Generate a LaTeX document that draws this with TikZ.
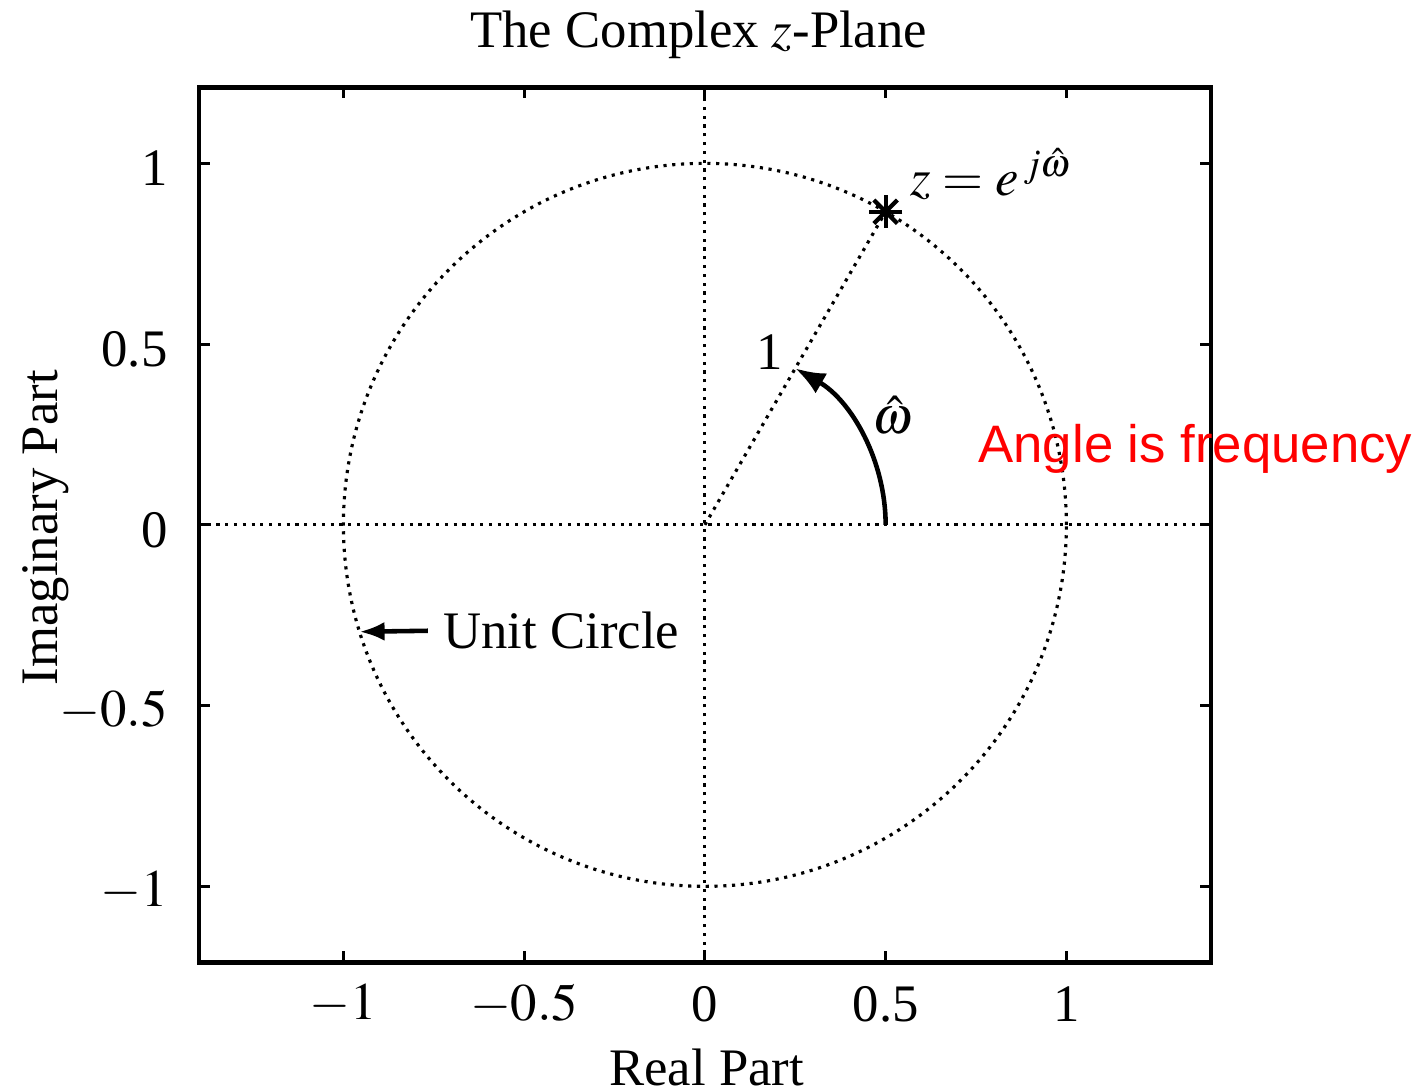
\documentclass[tikz,border=0pt]{standalone}
\usepackage{mathptmx}
\usepackage{fontspec}
\setmainfont{Liberation Serif}
\newfontfamily\notefont{Liberation Sans}
\usepackage{xcolor}
\usepackage{tikz}
\usetikzlibrary{calc,arrows.meta,positioning}
\definecolor{inkc}{HTML}{000000}
\definecolor{notec}{HTML}{FF0000}
\tikzset{
  frm/.style={line width=1.3pt,inkc},
  tck/.style={line width=0.9pt,inkc},
  dotl/.style={line width=0.9pt,dash pattern=on 0.9pt off 1.6pt,inkc},
  ar/.style={-{Latex[length=3mm,width=2.3mm]},line width=1.3pt,inkc},
  lbl/.style={font=\fontsize{15}{18}\selectfont,inner sep=0pt,inkc}
}
\begin{document}
\begin{tikzpicture}[x=3.615cm,y=3.615cm]
\useasboundingbox (-1.950,-1.563) rectangle (1.981,1.452);
\coordinate (org) at (0,0);
\coordinate (zpt) at (60:1);
\coordinate (a0) at (0.5,0);
\coordinate (ucp) at (197.2:1);
% dotted axes, circle and radius
\draw[dotl] (-1.4,0)--(1.4,0);
\draw[dotl] (0,-1.21)--(0,1.21);
\draw[dotl] (org) circle (1);
\draw[dotl] (org)--(zpt);
% frame and ticks
\draw[frm] (-1.4,-1.21) rectangle (1.4,1.21);
\foreach \t/\s [count=\k] in {-1/$-1$,-0.5/$-0.5$,0/0,0.5/0.5,1/1} {
  \draw[tck] (\t,-1.21)--++(0,0.03);
  \draw[tck] (\t,1.21)--++(0,-0.03);
  \draw[tck] (-1.4,\t)--++(0.03,0);
  \draw[tck] (1.4,\t)--++(-0.03,0);
  \node[lbl] (xt\k) at (\t,-1.326) {\s};
  \node[lbl,anchor=east] (yt\k) at (-1.485,\t-0.014) {\s};
}
% texts
\node[lbl,anchor=base] (ttl) at (-0.017,1.32) {The Complex $z$-Plane};
\node[lbl,anchor=base] (xlab) at (0.005,-1.552) {Real Part};
\node[lbl,anchor=base,rotate=90] (ylab) at (-1.79,-0.008) {Imaginary Part};
% point z
\foreach \a in {0,45,90,135}
  \draw[line width=1.2pt,inkc] ($(zpt)+(\a:0.046)$)--($(zpt)+(\a+180:0.046)$);
\node[lbl,anchor=base west] (zlab) at (0.567,0.912) {$z=e^{\,j\hat{\omega}}$};
\node[lbl] (rlab) at (0.18,0.478) {1};
\node[lbl] (wlab) at (0.52,0.304) {$\hat{\omega}$};
% angle arrow
\draw[ar] (a0) arc[start angle=0,end angle=60,radius=0.5];
% unit circle pointer
\node[lbl,anchor=west,inner sep=0pt] (uc) at (-0.725,-0.293) {Unit Circle};
\draw[-{Latex[length=2.5mm,width=1.9mm]},line width=1.3pt,inkc] ([xshift=-0.15cm]uc.west) -- (ucp);
\node[lbl,font=\notefont\fontsize{15}{18}\selectfont,text=notec,anchor=base west] (note) at (0.755,0.172) {Angle is frequency};
\end{tikzpicture}
\end{document}
